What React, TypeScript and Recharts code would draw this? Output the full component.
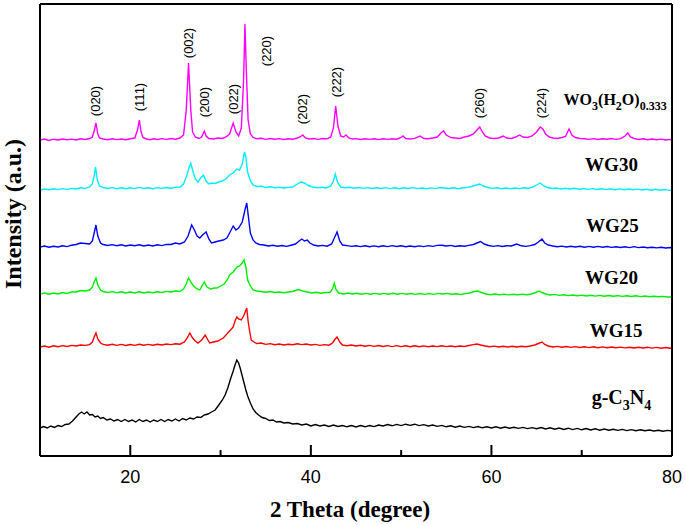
import React from "react";
import { LineChart, Line, XAxis, YAxis, ReferenceDot } from "recharts";

// XRD patterns: [2θ (degree), intensity above the pattern's own baseline (a.u.)]
const wo3Pattern: [number, number][] = [
  [10, 0], [10.5, 1], [11, -0.5], [11.5, 0.8], [12, 0], [12.5, 1], [13, 0.2], [13.5, 0.9], [14, 0], [14.5, 1.2],
  [15, 0.5], [15.5, 1.5], [15.8, 3], [16, 9], [16.2, 17], [16.4, 6], [16.6, 2], [17, 1], [17.5, 0.3], [18, 1.2],
  [18.5, 0.4], [19, 1], [19.5, 0.2], [20, 1.3], [20.5, 2], [20.8, 10], [21, 20], [21.2, 8], [21.4, 2.5], [21.8, 1],
  [22.2, 0.3], [22.6, 1.2], [23, 0.5], [23.5, 1.4], [24, 0.6], [24.5, 1.5], [25, 0.8], [25.5, 2], [25.9, 5], [26.2, 30],
  [26.45, 77], [26.7, 30], [26.9, 8], [27.2, 3], [27.6, 1.5], [27.9, 3], [28.2, 9], [28.4, 4], [28.7, 1.5], [29.2, 1],
  [29.7, 2], [30.2, 1.5], [30.6, 3], [31, 6], [31.4, 17], [31.7, 8], [32, 4], [32.3, 12], [32.55, 60], [32.7, 116],
  [32.85, 70], [33.05, 20], [33.3, 6], [33.6, 2.5], [34, 1.2], [34.5, 1.8], [35, 0.6], [35.5, 1.5], [36, 0.8], [36.5, 1.4],
  [37, 0.5], [37.5, 1.3], [38, 0.8], [38.5, 2], [38.8, 3], [39.1, 5], [39.4, 2], [39.8, 1], [40.3, 1.5], [40.8, 0.6],
  [41.3, 1.5], [41.8, 1.2], [42.2, 3], [42.5, 12], [42.75, 34], [43, 14], [43.3, 4], [43.6, 3], [43.9, 5], [44.2, 2],
  [44.6, 1], [45, 1.4], [45.5, 0.5], [46, 1.2], [46.5, 0.6], [47, 1.3], [47.5, 0.4], [48, 1.2], [48.5, 0.6], [49, 1.3],
  [49.5, 0.8], [50, 2.5], [50.2, 4], [50.5, 1.5], [51, 1], [51.5, 1.6], [52.1, 4], [52.5, 1.5], [53, 1.2], [53.5, 2],
  [54, 3], [54.4, 7], [54.7, 9], [55, 5], [55.5, 2.5], [56, 2], [56.5, 1.5], [57, 3], [57.5, 4], [58, 6],
  [58.4, 10], [58.7, 13], [59, 8], [59.3, 4], [59.8, 2], [60.3, 1.5], [60.8, 2], [61.3, 4], [61.7, 2], [62.2, 1.5],
  [62.7, 3], [63.1, 5], [63.5, 3], [64, 2.5], [64.5, 4], [65, 8], [65.4, 13], [65.7, 11], [66, 6], [66.4, 3],
  [66.8, 2], [67.3, 1.5], [67.8, 2.5], [68.2, 3.5], [68.6, 11], [68.9, 5], [69.3, 2.5], [69.8, 1.5], [70.3, 1.2], [70.8, 0.6],
  [71.3, 1.4], [71.8, 0.5], [72.3, 1.2], [72.8, 0.8], [73.3, 1.5], [73.8, 0.6], [74.3, 1.4], [74.8, 4], [75.1, 7], [75.4, 3],
  [75.8, 1.5], [76.3, 0.5], [76.8, 1.2], [77.3, 0.3], [77.8, 1], [78.3, 0.2], [78.8, 0.9], [79.3, 0], [79.8, 0.6], [80, 0],
];

const wg30Pattern: [number, number][] = [
  [10, 0], [10.5, 1], [11, 0.3], [11.5, 1.2], [12, 0.4], [12.5, 1.4], [13, 0.6], [13.5, 1.6], [14, 1], [14.5, 2.2],
  [15, 1.6], [15.5, 3], [15.8, 6], [16, 14], [16.15, 23], [16.35, 10], [16.6, 4], [17, 2.5], [17.5, 1.5], [18, 2.4],
  [18.5, 1.3], [19, 2.2], [19.5, 1.2], [20, 2.3], [20.5, 1.4], [21, 2.6], [21.5, 1.5], [22, 2.2], [22.5, 1.3], [23, 2.4],
  [23.5, 1.6], [24, 2.5], [24.5, 1.8], [25, 2.8], [25.5, 3], [25.9, 6], [26.2, 13], [26.5, 22], [26.7, 27], [26.9, 20],
  [27.2, 11], [27.5, 8], [27.8, 12], [28.1, 15], [28.4, 9], [28.7, 6], [29, 7], [29.4, 6.5], [29.8, 8], [30.2, 9],
  [30.6, 11], [31, 15], [31.4, 17], [31.8, 21], [32.1, 20], [32.4, 26], [32.65, 38], [32.8, 33], [33, 18], [33.3, 9],
  [33.6, 5], [34, 3.5], [34.5, 3.8], [35, 2.5], [35.5, 3.2], [36, 2.2], [36.5, 2.8], [37, 2], [37.5, 2.6], [38, 3],
  [38.5, 6], [38.9, 8], [39.3, 7], [39.7, 4.5], [40.2, 3], [40.7, 2.2], [41.2, 2.8], [41.7, 2], [42.2, 4], [42.5, 9],
  [42.7, 16], [42.95, 8], [43.3, 3], [43.8, 2.2], [44.3, 2.8], [44.8, 1.8], [45.3, 2.5], [45.8, 1.6], [46.3, 2.4], [46.8, 1.5],
  [47.3, 2.3], [47.8, 1.5], [48.3, 2.4], [48.8, 1.4], [49.3, 2.2], [49.8, 1.3], [50.3, 2.2], [50.8, 1.5], [51.3, 2.4], [51.8, 1.4],
  [52.3, 2], [52.8, 1.2], [53.3, 2.1], [53.8, 1.4], [54.3, 2.5], [54.8, 2], [55.3, 1.5], [55.8, 2.2], [56.3, 1.3], [56.8, 2],
  [57.3, 2.6], [57.8, 3.5], [58.3, 5], [58.7, 6], [59.1, 4], [59.6, 2.5], [60.1, 1.6], [60.6, 2.2], [61.1, 1.3], [61.6, 2],
  [62.1, 1.2], [62.6, 2], [63.1, 1.4], [63.6, 2.2], [64.1, 1.8], [64.6, 3], [65, 5], [65.4, 7], [65.8, 4], [66.2, 2.5],
  [66.7, 1.5], [67.2, 2], [67.7, 1], [68.2, 1.8], [68.7, 1], [69.2, 1.7], [69.7, 0.8], [70.2, 1.5], [70.7, 0.6], [71.2, 1.4],
  [71.7, 0.5], [72.2, 1.3], [72.7, 0.4], [73.2, 1.2], [73.7, 0.3], [74.2, 1.1], [74.7, 0.2], [75.2, 1], [75.7, 0.2], [76.2, 0.9],
  [76.7, 0], [77.2, 0.8], [77.7, -0.2], [78.2, 0.7], [78.7, -0.3], [79.2, 0.5], [79.7, -0.4], [80, 0],
];

const wg25Pattern: [number, number][] = [
  [10, 1], [10.5, 2], [11, 0.8], [11.5, 1.8], [12, 1], [12.5, 2.2], [13, 1.4], [13.5, 2.8], [14, 3.5], [14.5, 5],
  [15, 4.5], [15.5, 4], [15.8, 7], [16, 15], [16.2, 23], [16.4, 12], [16.7, 5], [17, 3.5], [17.5, 2.5], [18, 3.4],
  [18.5, 2.2], [19, 3.2], [19.5, 2], [20, 3], [20.5, 2.2], [21, 3.2], [21.5, 2], [22, 3], [22.5, 2], [23, 3.2],
  [23.5, 2.4], [24, 3.6], [24.5, 3.5], [25, 5], [25.5, 4], [26, 6], [26.4, 12], [26.8, 23], [27.1, 18], [27.4, 12],
  [27.7, 10], [28, 13], [28.4, 16], [28.7, 9], [29, 5], [29.4, 6], [29.8, 7], [30.3, 8], [30.7, 10], [31, 15],
  [31.4, 22], [31.7, 18], [32, 20], [32.4, 26], [32.7, 38], [32.9, 45], [33.1, 30], [33.3, 15], [33.6, 8], [33.9, 5],
  [34.3, 3.5], [34.8, 3], [35.3, 2], [35.8, 2.8], [36.3, 1.8], [36.8, 2.5], [37.3, 1.6], [37.8, 2.8], [38.3, 4], [38.7, 7],
  [39, 9], [39.3, 7], [39.6, 8], [39.9, 5], [40.3, 3], [40.8, 2], [41.3, 2.6], [41.8, 1.8], [42.3, 4], [42.6, 10],
  [42.9, 16], [43.2, 7], [43.5, 3], [44, 2.4], [44.5, 1.6], [45, 2.2], [45.5, 1.4], [46, 2.3], [46.5, 1.3], [47, 2.1],
  [47.5, 1.2], [48, 2.2], [48.5, 1.4], [49, 2.4], [49.5, 1.5], [50, 2.2], [50.5, 1.3], [51, 2], [51.5, 1.2], [52, 2.1],
  [52.5, 1.4], [53, 2.4], [53.5, 1.6], [54, 2.6], [54.5, 2.8], [55, 2], [55.5, 2.6], [56, 1.5], [56.5, 2.2], [57, 1.8],
  [57.5, 2.6], [58, 3.5], [58.4, 5], [58.8, 6.5], [59.2, 4], [59.7, 2.5], [60.2, 1.6], [60.7, 2.4], [61.2, 1.5], [61.7, 2.3],
  [62.2, 2], [62.8, 4], [63.3, 2.2], [63.8, 1.6], [64.3, 2.4], [64.8, 3.5], [65.2, 6], [65.6, 9], [65.9, 5], [66.3, 3],
  [66.8, 2], [67.3, 1.2], [67.8, 1.9], [68.3, 1], [68.8, 1.8], [69.3, 1], [69.8, 1.7], [70.3, 0.8], [70.8, 1.6], [71.3, 0.7],
  [71.8, 1.6], [72.3, 0.8], [72.8, 1.5], [73.3, 0.6], [73.8, 1.3], [74.3, 0.5], [74.8, 1.2], [75.3, 0.4], [75.8, 1.4], [76.3, 0.4],
  [76.8, 1], [77.3, 0.2], [77.8, 0.8], [78.3, 0.1], [78.8, 0.7], [79.3, 0], [79.8, 0.5], [80, 0],
];

const wg20Pattern: [number, number][] = [
  [10, 3], [10.5, 4], [11, 2.8], [11.5, 4], [12, 3], [12.5, 4.5], [13, 3.5], [13.5, 5], [14, 5], [14.5, 6.5],
  [15, 6], [15.5, 7], [15.8, 10], [16, 15], [16.2, 19], [16.4, 12], [16.7, 7], [17, 5.5], [17.5, 4.5], [18, 5.4],
  [18.5, 4.2], [19, 5.2], [19.5, 4], [20, 5], [20.5, 4], [21, 5.2], [21.5, 4], [22, 5], [22.5, 4.2], [23, 5.3],
  [23.5, 4.5], [24, 5.6], [24.5, 5], [25, 6], [25.5, 5.5], [25.9, 8], [26.2, 13], [26.45, 19], [26.7, 15], [27, 11],
  [27.4, 8], [27.7, 7], [28, 12], [28.2, 15], [28.5, 10], [28.9, 8], [29.3, 9], [29.6, 9], [30, 11], [30.4, 13],
  [30.8, 18], [31, 22], [31.4, 25], [31.8, 30], [32.1, 31], [32.4, 34], [32.6, 37], [32.8, 30], [33, 17], [33.3, 11],
  [33.6, 7], [34, 6], [34.5, 5.5], [35, 4.8], [35.5, 5.5], [36, 4.5], [36.5, 5], [37, 4.2], [37.5, 5], [38, 5.5],
  [38.6, 7.5], [39.1, 6], [39.6, 5], [40.1, 4], [40.6, 4.8], [41.1, 3.8], [41.6, 4.5], [42.1, 4.5], [42.4, 8], [42.6, 14],
  [42.8, 7], [43.1, 4], [43.6, 3], [44.1, 4], [44.6, 3], [45.1, 3.8], [45.6, 2.8], [46.1, 3.6], [46.6, 2.8], [47.1, 3.6],
  [47.6, 2.8], [48.1, 3.6], [48.6, 2.8], [49.1, 3.7], [49.6, 2.7], [50.1, 3.6], [50.6, 2.7], [51.1, 3.5], [51.6, 2.6], [52.1, 3.5],
  [52.6, 2.6], [53.1, 3.4], [53.6, 2.6], [54.1, 3.6], [54.6, 3], [55.1, 3.6], [55.6, 2.8], [56.1, 3.2], [56.6, 2.5], [57.1, 3.4],
  [57.6, 4], [58.1, 5.5], [58.5, 6], [58.9, 4.5], [59.4, 3], [59.9, 2.3], [60.4, 3], [60.9, 2.2], [61.4, 2.9], [61.9, 2.1],
  [62.4, 2.8], [62.9, 2.2], [63.4, 2.9], [63.9, 2.2], [64.4, 3], [64.9, 4.5], [65.3, 6], [65.6, 4.5], [66, 3], [66.5, 2],
  [67, 2.6], [67.5, 1.6], [68, 2.2], [68.5, 1.4], [69, 2], [69.5, 1.2], [70, 1.9], [70.5, 1], [71, 1.8], [71.5, 0.9],
  [72, 1.6], [72.5, 0.8], [73, 1.5], [73.5, 0.7], [74, 1.4], [74.5, 0.6], [75, 1.3], [75.5, 0.5], [76, 1.2], [76.5, 0.4],
  [77, 1], [77.5, 0.3], [78, 0.8], [78.5, 0.2], [79, 0.6], [79.5, 0], [80, 0],
];

const wg15Pattern: [number, number][] = [
  [10, 1], [10.5, 2], [11, 0.8], [11.5, 2.2], [12, 1.2], [12.5, 2.4], [13, 1.5], [13.5, 2.6], [14, 2], [14.5, 3],
  [15, 2.6], [15.5, 3.4], [15.8, 6], [16, 11], [16.2, 15], [16.4, 9], [16.7, 5], [17, 3.6], [17.5, 2.8], [18, 3.8],
  [18.5, 2.6], [19, 3.6], [19.5, 2.5], [20, 3.5], [20.5, 2.6], [21, 3.8], [21.5, 2.7], [22, 3.6], [22.5, 2.8], [23, 3.8],
  [23.5, 3], [24, 4], [24.5, 3.4], [25, 4.2], [25.5, 3.8], [26, 6], [26.3, 10], [26.6, 15], [26.9, 10], [27.2, 7],
  [27.5, 5], [27.9, 8], [28.3, 13], [28.6, 8], [28.8, 5], [29.2, 6], [29.7, 7], [30.3, 10], [30.8, 15], [31.1, 18],
  [31.4, 21], [31.6, 27], [31.8, 31], [32, 29], [32.3, 28], [32.6, 33], [32.9, 40], [33.05, 27], [33.2, 18], [33.4, 8],
  [33.7, 6], [34, 4.5], [34.5, 5], [35, 3.6], [35.5, 4.4], [36, 3.2], [36.5, 4], [37, 3], [37.5, 3.8], [38, 3.2],
  [38.5, 4.2], [39, 3.4], [39.5, 4], [40, 3], [40.5, 3.6], [41, 2.6], [41.5, 3.4], [42, 2.8], [42.4, 5], [42.7, 9],
  [42.9, 11], [43.2, 6], [43.5, 3], [44, 2.2], [44.5, 3], [45, 2], [45.5, 2.8], [46, 1.8], [46.5, 2.6], [47, 1.6],
  [47.5, 2.5], [48, 1.5], [48.5, 2.4], [49, 1.4], [49.5, 2.4], [50, 1.4], [50.5, 2.2], [51, 1.3], [51.5, 2.2], [52, 1.2],
  [52.5, 2.1], [53, 1.2], [53.5, 2], [54, 1.4], [54.5, 2.2], [55, 1.4], [55.5, 2], [56, 1.2], [56.5, 2], [57, 1.5],
  [57.5, 2.5], [58, 3.4], [58.4, 4], [58.8, 3], [59.3, 2], [59.8, 1.2], [60.3, 1.9], [60.8, 1], [61.3, 1.8], [61.8, 1],
  [62.3, 1.8], [62.8, 1], [63.3, 1.8], [63.8, 1.2], [64.3, 2], [64.8, 3], [65.2, 4.5], [65.6, 6], [65.9, 3.5], [66.3, 2],
  [66.8, 1], [67.3, 1.6], [67.8, 0.8], [68.3, 1.5], [68.8, 0.6], [69.3, 1.4], [69.8, 0.5], [70.3, 1.3], [70.8, 0.4], [71.3, 1.2],
  [71.8, 0.3], [72.3, 1.1], [72.8, 0.2], [73.3, 1], [73.8, 0.2], [74.3, 0.9], [74.8, 0.1], [75.3, 0.8], [75.8, 0], [76.3, 0.8],
  [76.8, 0], [77.3, 0.7], [77.8, -0.1], [78.3, 0.6], [78.8, -0.2], [79.3, 0.5], [79.8, -0.2], [80, 0],
];

const gc3n4Pattern: [number, number][] = [
  [10, 3], [10.4, 4.5], [10.8, 3], [11.2, 5], [11.6, 3.6], [12, 5.5], [12.4, 4.5], [12.8, 6.5], [13.2, 7], [13.6, 10],
  [14, 14], [14.3, 17], [14.6, 19], [14.9, 17], [15.2, 19], [15.5, 16], [15.8, 16.5], [16.1, 14], [16.4, 15], [16.7, 12.5],
  [17, 13.5], [17.4, 11], [17.8, 12], [18.2, 10], [18.6, 11.5], [19, 9.5], [19.4, 11.5], [19.8, 9.5], [20.2, 11], [20.6, 9],
  [21, 11.5], [21.4, 9.5], [21.8, 11], [22.2, 9], [22.6, 11], [23, 9.5], [23.4, 11.5], [23.8, 9.5], [24.2, 11.5], [24.6, 10],
  [25, 12], [25.4, 10], [25.8, 12.5], [26.2, 11], [26.6, 13], [27, 12], [27.4, 14], [27.8, 13.5], [28.2, 16], [28.6, 17],
  [29, 19], [29.4, 21], [29.8, 26], [30.2, 31], [30.5, 36], [30.8, 43], [31.1, 52], [31.4, 60], [31.6, 66], [31.8, 71],
  [32, 68], [32.2, 62], [32.4, 55], [32.6, 48], [32.8, 41], [33, 35], [33.3, 28], [33.6, 22], [33.9, 18.5], [34.2, 16],
  [34.6, 13.5], [35, 12.5], [35.4, 10.5], [35.8, 11], [36.2, 9], [36.6, 9.5], [37, 8], [37.5, 8.5], [38, 7], [38.5, 7.5],
  [39, 6], [39.5, 7], [40, 5], [40.5, 6.5], [41, 5], [41.5, 6], [42, 4.5], [42.5, 6], [43, 4.5], [43.5, 5.5],
  [44, 4.2], [44.5, 5.4], [45, 4], [45.5, 5.4], [46, 4.2], [46.5, 5.5], [47, 4.4], [47.5, 6], [48, 5], [48.5, 6.4],
  [49, 5.2], [49.5, 6.6], [50, 5.4], [50.5, 6.8], [51, 5.6], [51.5, 6.8], [52, 5.4], [52.5, 6.4], [53, 5], [53.5, 6],
  [54, 4.6], [54.5, 5.6], [55, 4.2], [55.5, 5.2], [56, 3.8], [56.5, 5], [57, 3.6], [57.5, 4.6], [58, 3.4], [58.5, 4.5],
  [59, 3.2], [59.5, 4.2], [60, 3], [60.5, 4.2], [61, 2.8], [61.5, 4], [62, 2.8], [62.5, 3.8], [63, 2.6], [63.5, 3.6],
  [64, 2.4], [64.5, 3.4], [65, 2.2], [65.5, 3.4], [66, 2], [66.5, 3.2], [67, 1.8], [67.5, 3], [68, 1.6], [68.5, 2.8],
  [69, 1.4], [69.5, 2.6], [70, 1.2], [70.5, 2.4], [71, 1], [71.5, 2.2], [72, 0.8], [72.5, 2], [73, 0.8], [73.5, 1.8],
  [74, 0.6], [74.5, 1.6], [75, 0.4], [75.5, 1.4], [76, 0.2], [76.5, 1.2], [77, 0.2], [77.5, 1], [78, 0], [78.5, 0.8],
  [79, -0.2], [79.5, 0.6], [80, 0],
];

const patterns = [wo3Pattern, wg30Pattern, wg25Pattern, wg20Pattern, wg15Pattern, gc3n4Pattern];

// sample names, split into [text, subscript?] runs
const sampleNames: [string, boolean][][] = [
  [["WO", false], ["3", true], ["(H", false], ["2", true], ["O)", false], ["0.333", true]],
  [["WG30", false]],
  [["WG25", false]],
  [["WG20", false]],
  [["WG15", false]],
  [["g-C", false], ["3", true], ["N", false], ["4", true]],
];

const hklLabels = ["(020)", "(111)", "(002)", "(200)", "(022)", "(220)", "(202)", "(222)", "(260)", "(224)"];

const thetaTicks = [10, 20, 30, 40, 50, 60, 70, 80];

// layout: vertical stacking of the patterns, label anchors (2θ, a.u.)
const stackOffset = [316, 266, 208, 159, 108, 25];
const lineColors = ["#ff00ff", "#00eeff", "#0000ff", "#00ee00", "#ff0000", "#000000"];
const nameAnchor: [number, number][] = [
  [73.7, 351], [73.3, 285], [73.4, 224], [73.3, 172], [73.8, 119], [74.4, 52],
];
const nameSize = [16, 19, 19, 19, 19, 20];
const hklAnchor: [number, number][] = [
  [16.2, 355], [21.0, 359], [26.5, 413], [28.2, 354], [31.4, 357],
  [35.1, 405], [39.1, 347], [42.8, 374], [58.7, 353], [65.5, 353],
];

const SERIF = "'Liberation Serif', 'Times New Roman', serif";
const SANS = "'Liberation Sans', Arial, sans-serif";
const frame = { stroke: "#000", strokeWidth: 2 };

const seriesData = patterns.map((p, i) =>
  p.map(([t, v]) => ({ t, v: v + stackOffset[i] }))
);

function ThetaTick({ x, y, payload }: any) {
  const v = payload.value;
  if (v === 10) return <g />;
  const major = v % 20 === 0;
  return (
    <g>
      <line x1={x} y1={y} x2={x} y2={y - (major ? 11 : 6)} stroke="#000" strokeWidth={2} />
      {major && (
        <text x={x} y={y + 21} textAnchor="middle" dominantBaseline="central" fontFamily={SANS} fontSize={18} fill="#000">
          {v}
        </text>
      )}
    </g>
  );
}

const hklLabel = (text: string) => (props: any) => {
  const vb = props.viewBox || {};
  const cx = vb.x + (vb.width || 0) / 2;
  const cy = vb.y + (vb.height || 0) / 2;
  return (
    <text
      x={cx}
      y={cy}
      transform={`rotate(-90 ${cx} ${cy})`}
      textAnchor="middle"
      dominantBaseline="central"
      fontFamily={SANS}
      fontSize={13}
      fill="#000"
    >
      {text}
    </text>
  );
};

const nameLabel = (runs: [string, boolean][], size: number) => (props: any) => {
  const vb = props.viewBox || {};
  const cx = vb.x + (vb.width || 0) / 2;
  const cy = vb.y + (vb.height || 0) / 2;
  const sub = Math.round(size * 0.72);
  const drop = Math.round(size * 0.3);
  let shifted = false;
  return (
    <text x={cx} y={cy} textAnchor="middle" fontFamily={SERIF} fontWeight="bold" fontSize={size} fill="#000">
      {runs.map(([s, isSub], k) => {
        const dy = isSub && !shifted ? drop : !isSub && shifted ? -drop : 0;
        shifted = isSub;
        return (
          <tspan key={k} dy={dy} fontSize={isSub ? sub : size}>
            {s}
          </tspan>
        );
      })}
    </text>
  );
};

export default function App() {
  return (
    <div style={{ position: "absolute", left: 0, top: 0, width: 685, height: 525, background: "#fff" }}>
      <LineChart width={685} height={525} margin={{ top: 3, right: 12, left: 39, bottom: 0 }}>
        <XAxis
          dataKey="t"
          type="number"
          domain={[10, 80]}
          allowDataOverflow
          ticks={thetaTicks}
          interval={0}
          height={69}
          tickSize={0}
          tickMargin={0}
          tickLine={false}
          axisLine={frame}
          tick={<ThetaTick />}
          label={{
            content: (p: any) => {
              const vb = p.viewBox || {};
              return (
                <text
                  x={vb.x + vb.width / 2 - 6}
                  y={vb.y + 53}
                  textAnchor="middle"
                  dominantBaseline="central"
                  fontFamily={SERIF}
                  fontWeight="bold"
                  fontSize={23}
                  fill="#000"
                >
                  2 Theta (degree)
                </text>
              );
            },
          }}
        />
        <XAxis xAxisId="top" orientation="top" type="number" domain={[10, 80]} height={1} tick={false} tickLine={false} axisLine={frame} />
        <YAxis
          type="number"
          domain={[0, 452]}
          allowDataOverflow
          width={1}
          tick={false}
          tickLine={false}
          axisLine={frame}
          label={{
            content: (p: any) => {
              const vb = p.viewBox || {};
              const x = vb.x - 26;
              const y = vb.y + vb.height / 2 - 16;
              return (
                <text
                  x={x}
                  y={y}
                  transform={`rotate(-90 ${x} ${y})`}
                  textAnchor="middle"
                  dominantBaseline="central"
                  fontFamily={SERIF}
                  fontWeight="bold"
                  fontSize={24}
                  fill="#000"
                >
                  Intensity (a.u.)
                </text>
              );
            },
          }}
        />
        <YAxis yAxisId="right" orientation="right" type="number" domain={[0, 452]} width={1} tick={false} tickLine={false} axisLine={frame} />
        {seriesData.map((d, i) => (
          <Line
            key={i}
            data={d}
            dataKey="v"
            type="linear"
            stroke={lineColors[i]}
            strokeWidth={1.4}
            dot={false}
            activeDot={false}
            isAnimationActive={false}
          />
        ))}
        {hklLabels.map((h, i) => (
          <ReferenceDot
            key={"hkl" + i}
            x={hklAnchor[i][0]}
            y={hklAnchor[i][1]}
            r={0}
            fill="none"
            stroke="none"
            label={hklLabel(h)}
          />
        ))}
        {sampleNames.map((n, i) => (
          <ReferenceDot
            key={"name" + i}
            x={nameAnchor[i][0]}
            y={nameAnchor[i][1]}
            r={0}
            fill="none"
            stroke="none"
            label={nameLabel(n, nameSize[i])}
          />
        ))}
      </LineChart>
    </div>
  );
}
